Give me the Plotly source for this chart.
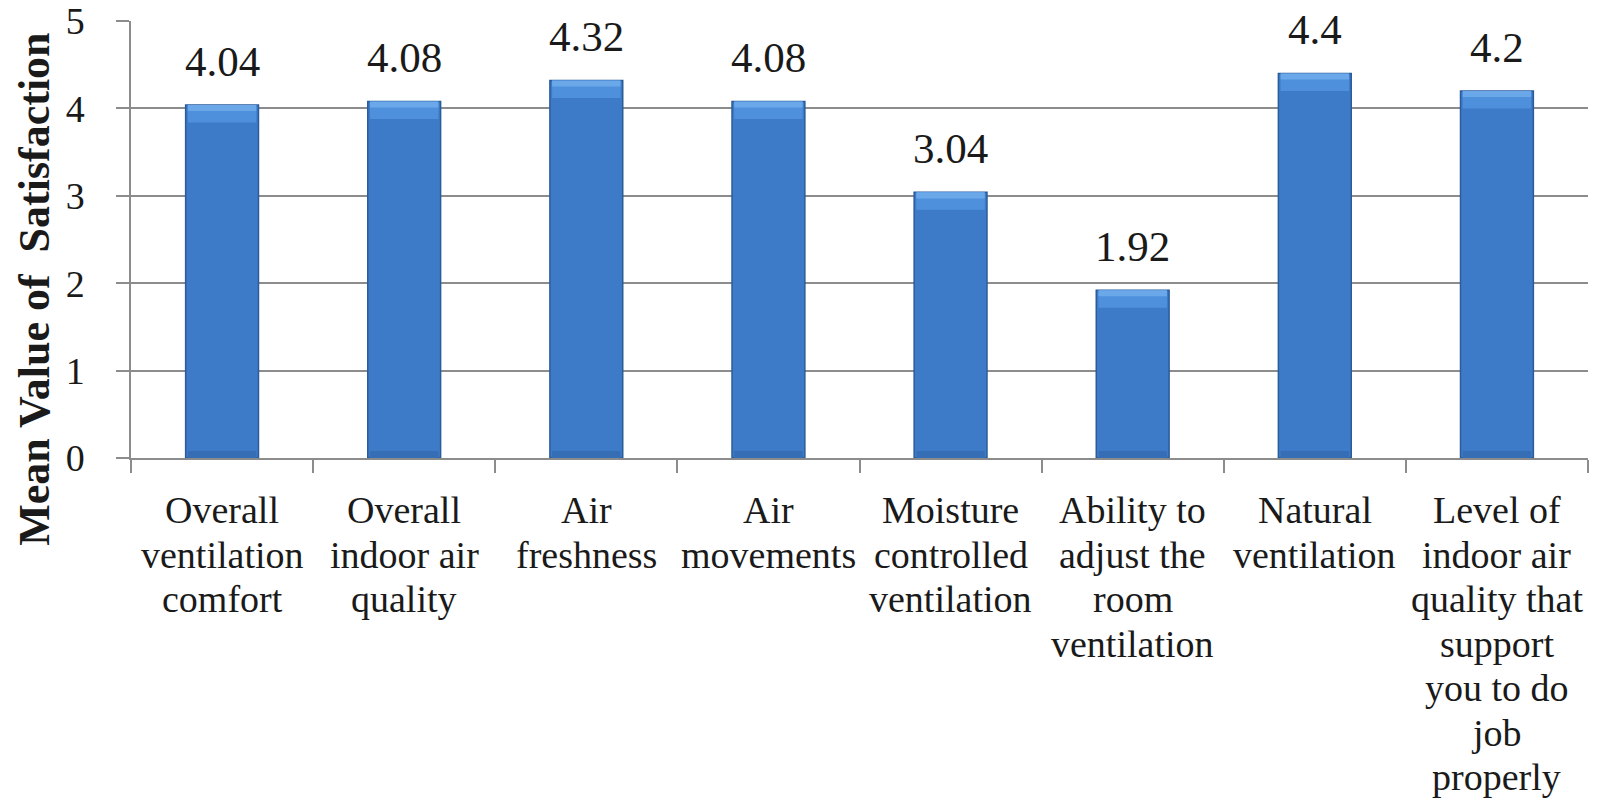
import plotly.graph_objects as go

# Survey results: mean satisfaction per ventilation item
categories = [
    "Overall ventilation comfort",
    "Overall indoor air quality",
    "Air freshness",
    "Air movements",
    "Moisture controlled ventilation",
    "Ability to adjust the room ventilation",
    "Natural ventilation",
    "Level of indoor air quality that support you to do job properly",
]
label_lines = [
    ["Overall", "ventilation", "comfort"],
    ["Overall", "indoor air", "quality"],
    ["Air", "freshness"],
    ["Air", "movements"],
    ["Moisture", "controlled", "ventilation"],
    ["Ability to", "adjust the", "room", "ventilation"],
    ["Natural", "ventilation"],
    ["Level of", "indoor air", "quality that", "support", "you to do", "job", "properly"],
]
mean_values = [4.04, 4.08, 4.32, 4.08, 3.04, 1.92, 4.4, 4.2]
value_labels = ["4.04", "4.08", "4.32", "4.08", "3.04", "1.92", "4.4", "4.2"]
y_ticks = [0, 1, 2, 3, 4, 5]

FONT = "Liberation Serif"
GRID = "#8c8c8c"
BAR_W = 0.4
TOP_BAND = 0.2
BOTTOM_BAND = 0.08

fig = go.Figure()

# main bar body
fig.add_trace(go.Bar(
    x=categories, y=mean_values, width=BAR_W,
    marker=dict(color="#3d7bc9", line=dict(color="#2b5c9a", width=1.5)),
    hoverinfo="x+y", showlegend=False,
))
# lighter bevel at the top of each bar
fig.add_trace(go.Bar(
    x=categories, y=[TOP_BAND] * len(mean_values),
    base=[v - TOP_BAND for v in mean_values], width=BAR_W * 0.94,
    marker=dict(color="#4f90dc", line=dict(width=0)),
    hoverinfo="skip", showlegend=False,
))
fig.add_trace(go.Bar(
    x=categories, y=[TOP_BAND * 0.35] * len(mean_values),
    base=[v - TOP_BAND * 0.35 for v in mean_values], width=BAR_W * 0.94,
    marker=dict(color="#6aa8ea", line=dict(width=0)),
    hoverinfo="skip", showlegend=False,
))
# slightly darker shading at the base of each bar
fig.add_trace(go.Bar(
    x=categories, y=[BOTTOM_BAND] * len(mean_values), width=BAR_W * 0.94,
    marker=dict(color="#366eb6", line=dict(width=0)),
    hoverinfo="skip", showlegend=False,
))

annotations = []
# value labels above the bars
for cat, v, txt in zip(categories, mean_values, value_labels):
    annotations.append(dict(
        x=cat, y=v, xref="x", yref="y", text=txt, showarrow=False,
        yanchor="bottom", yshift=18,
        font=dict(family=FONT, size=43, color="#1a1a1a"),
    ))
# multi-line category labels under the axis
for cat, lines in zip(categories, label_lines):
    for i, line in enumerate(lines):
        annotations.append(dict(
            x=cat, y=0, xref="x", yref="paper", text=line, showarrow=False,
            yanchor="middle", yshift=-(52 + 44.5 * i),
            font=dict(family=FONT, size=38, color="#1a1a1a"),
        ))
# rotated y-axis title
annotations.append(dict(
    x=0, y=0.385, xref="paper", yref="paper",
    text="<b>Mean Value of\u00a0\u00a0Satisfaction</b>", showarrow=False,
    textangle=-90, xanchor="center", yanchor="middle", xshift=-96,
    font=dict(family=FONT, size=44, color="#1a1a1a"),
))

fig.update_layout(
    barmode="overlay",
    width=1598, height=805,
    margin=dict(l=131, r=10, t=21, b=347, autoexpand=False),
    paper_bgcolor="white", plot_bgcolor="white",
    annotations=annotations,
    xaxis=dict(
        type="category", range=[-0.5, 7.5], automargin=False,
        showticklabels=False, showgrid=False,
        showline=True, linecolor=GRID, linewidth=1.5,
        ticks="outside", tickson="boundaries", ticklen=13,
        tickcolor=GRID, tickwidth=1.5,
    ),
    yaxis=dict(
        range=[0, 5], tickvals=y_ticks, ticktext=[str(t) for t in y_ticks],
        automargin=False,
        showgrid=True, gridcolor=GRID, gridwidth=1.5,
        zeroline=False, showline=True, linecolor=GRID, linewidth=1.5,
        ticks="outside", ticklen=13, tickcolor=GRID, tickwidth=1.5,
        ticklabelstandoff=24,
        tickfont=dict(family=FONT, size=38, color="#1a1a1a"),
    ),
)

fig.write_html("out.html")
